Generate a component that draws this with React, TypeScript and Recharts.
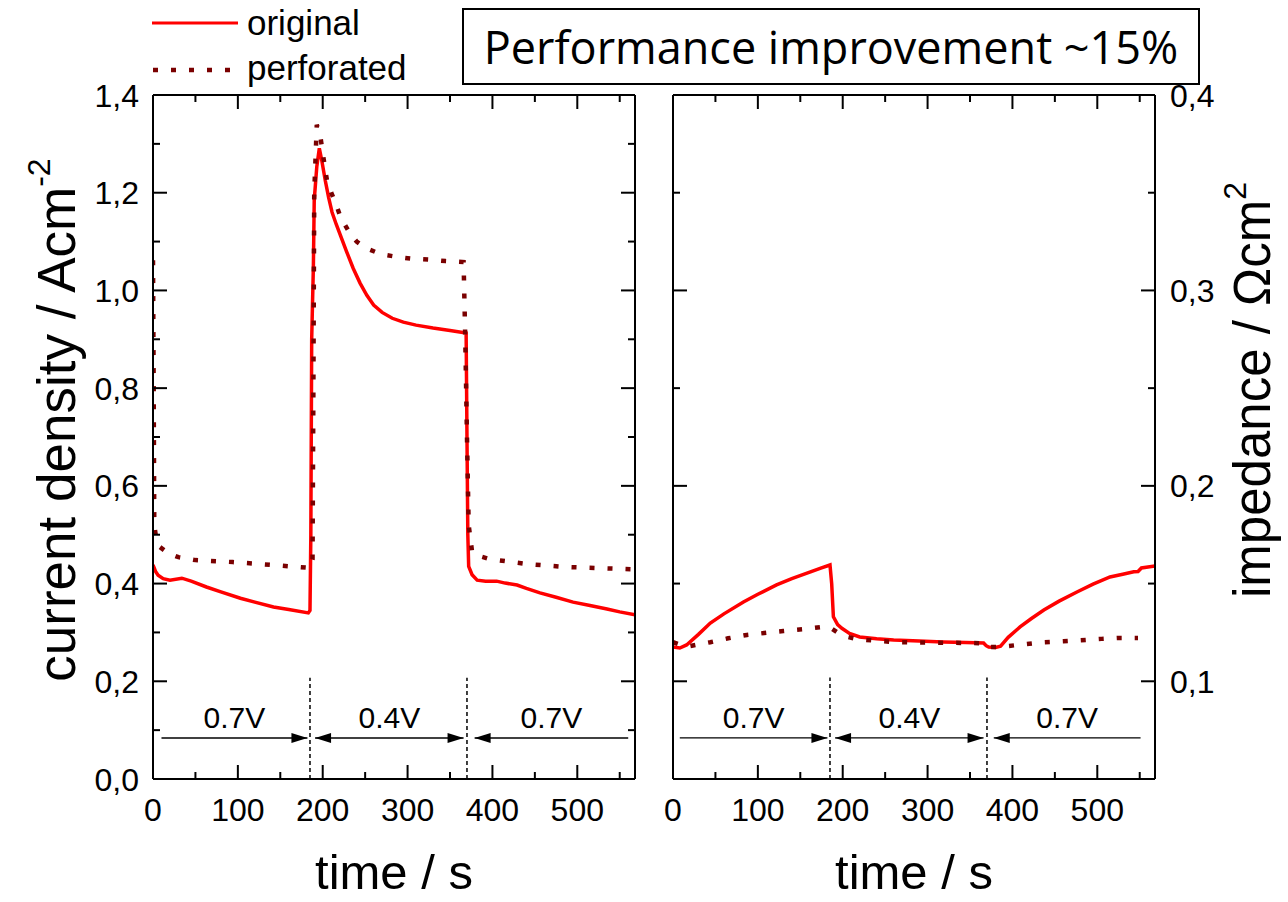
import { LineChart, Line, XAxis, YAxis, ReferenceLine } from "recharts";

const TIME_MAX = 568;
const timeTicks = [0, 50, 100, 150, 200, 250, 300, 350, 400, 450, 500, 550];
const currentTicks = [0, 0.1, 0.2, 0.3, 0.4, 0.5, 0.6, 0.7, 0.8, 0.9, 1.0, 1.1, 1.2, 1.3, 1.4];
const impedanceTicks = [0.1, 0.15, 0.2, 0.25, 0.3, 0.35, 0.4];

// voltage steps: switch times, labels and the arrow spans under each label
const stepSwitches = [185, 370];
const stepLabels = ["0.7V", "0.4V", "0.7V"];
const stepHeads = ["end", "both", "start"];
const currentSpans: [number, number][] = [[10, 182], [191, 366], [379, 560]];
const impedanceSpans: [number, number][] = [[8, 182], [191, 366], [378, 551]];

// [time s, current density A/cm2]
const originalCurrent: [number, number][] = [
  [0, 0.438], [3, 0.425], [6, 0.417], [12, 0.41], [20, 0.407], [34, 0.411], [45, 0.405],
  [63, 0.393], [80, 0.383], [103, 0.37], [120, 0.362], [142, 0.352], [160, 0.347], [183, 0.34],
  [185, 0.345], [186, 0.5], [187, 0.9], [189, 1.05], [190, 1.185], [193, 1.253], [196, 1.291],
  [199, 1.265], [203, 1.225], [207, 1.19], [211, 1.16], [216, 1.135], [221, 1.112], [228, 1.08],
  [236, 1.045], [244, 1.015], [252, 0.99], [260, 0.97], [270, 0.955], [282, 0.943], [295, 0.935],
  [310, 0.929], [330, 0.923], [350, 0.918], [369, 0.913],
  [370, 0.7], [371, 0.5], [372, 0.435], [376, 0.418], [382, 0.407], [392, 0.405], [405, 0.405],
  [415, 0.401], [429, 0.397], [440, 0.39], [456, 0.381], [475, 0.372], [495, 0.362], [515, 0.355],
  [535, 0.348], [550, 0.342], [568, 0.336],
];

const perforatedCurrent: [number, number][] = [
  [0, 1.062], [0.8, 0.8], [1.5, 0.52], [4, 0.49], [8, 0.475], [18, 0.462], [30, 0.454],
  [50, 0.448], [94, 0.444], [142, 0.438], [185, 0.432], [188, 0.45], [189, 0.8], [190, 1.2],
  [193, 1.339], [197, 1.318], [201, 1.27], [205, 1.225], [210, 1.2], [215, 1.18], [220, 1.155],
  [226, 1.135], [232, 1.117], [240, 1.1], [248, 1.09], [256, 1.083], [266, 1.076], [276, 1.072],
  [290, 1.068], [305, 1.065], [325, 1.063], [345, 1.06], [366, 1.058],
  [368, 0.9], [370, 0.7], [372, 0.52],
  [376, 0.465], [385, 0.456], [397, 0.45], [441, 0.44], [486, 0.434], [553, 0.43], [568, 0.429],
];

// [time s, impedance Ohm cm2]
const originalImpedance: [number, number][] = [
  [0, 0.1175], [8, 0.117], [16, 0.1186], [30, 0.124], [44, 0.1298], [60, 0.1345], [83, 0.1406],
  [100, 0.1445], [122, 0.1493], [140, 0.1525], [162, 0.156], [175, 0.158], [185, 0.1595],
  [187, 0.15], [189, 0.133], [194, 0.129], [199, 0.1271], [208, 0.1245], [220, 0.1227],
  [240, 0.1218], [260, 0.1211], [290, 0.1206], [318, 0.1201], [345, 0.1198], [366, 0.1196],
  [369, 0.1182], [372, 0.1175], [380, 0.1173], [386, 0.118], [395, 0.1225], [409, 0.1278],
  [422, 0.132], [437, 0.1365], [455, 0.141], [476, 0.1457], [495, 0.1497], [515, 0.1534],
  [530, 0.1548], [543, 0.156], [548, 0.1562], [552, 0.158], [568, 0.159],
];

const perforatedImpedance: [number, number][] = [
  [0, 0.12], [10, 0.1185], [20, 0.118], [44, 0.12], [65, 0.122], [87, 0.1237], [110, 0.1248],
  [130, 0.1257], [155, 0.1267], [176, 0.1278], [185, 0.1275], [193, 0.1252], [205, 0.1228],
  [217, 0.1216], [240, 0.1207], [260, 0.1201], [300, 0.1198], [351, 0.1196], [365, 0.1194],
  [372, 0.1175], [385, 0.1176], [394, 0.118], [415, 0.119], [437, 0.12], [460, 0.1205],
  [480, 0.121], [505, 0.1217], [527, 0.1222], [548, 0.1222],
];

const FONT = "'Liberation Sans', Arial, sans-serif";
const RED = "#ff0000";
const DARK_RED = "#7a0000";
const DOTS = "5 13";
const axisStroke = { stroke: "#000", strokeWidth: 2 };

const toPoints = (rows: [number, number][]) => rows.map(([t, v]) => ({ t, v }));
const comma = (v: number) => v.toFixed(1).replace(".", ",");

// inward ticks, long on major values, short on minor ones
function timeTick(side: "bottom" | "top", showLabels: boolean) {
  return (p: any) => {
    const v = p.payload.value;
    const major = v % 100 === 0;
    const dir = side === "bottom" ? -1 : 1;
    return (
      <g>
        <line x1={p.x} x2={p.x} y1={p.y} y2={p.y + dir * (major ? 14 : 7)} stroke="#000" strokeWidth={2} />
        {showLabels && major && (
          <text x={p.x} y={p.y + 42} textAnchor="middle" fontSize={32} fontFamily={FONT} fill="#000">
            {v}
          </text>
        )}
      </g>
    );
  };
}

function valueTick(side: "left" | "right", isMajor: (v: number) => boolean, showLabels: boolean) {
  return (p: any) => {
    const v = p.payload.value;
    const major = isMajor(v);
    const dir = side === "left" ? 1 : -1;
    return (
      <g>
        <line x1={p.x} x2={p.x + dir * (major ? 14 : 7)} y1={p.y} y2={p.y} stroke="#000" strokeWidth={2} />
        {showLabels && major && (
          <text
            x={side === "left" ? p.x - 14 : p.x + 15}
            y={p.y + 11.5}
            textAnchor={side === "left" ? "end" : "start"}
            fontSize={32}
            fontFamily={FONT}
            fill="#000"
          >
            {comma(v)}
          </text>
        )}
      </g>
    );
  };
}

const currentMajor = (v: number) => Math.round(v * 10) % 2 === 0;
const impedanceMajor = (v: number) => Math.round(v * 100) % 10 === 0;

function spanArrow(heads: string) {
  return (p: any) => {
    const { x1, y1, x2, y2 } = p;
    const l = 16;
    const w = 5;
    return (
      <g>
        <line x1={x1} y1={y1} x2={x2} y2={y2} stroke="#000" strokeWidth={1.3} />
        {heads !== "start" && <polygon points={`${x2},${y2} ${x2 - l},${y2 - w} ${x2 - l},${y2 + w}`} fill="#000" />}
        {heads !== "end" && <polygon points={`${x1},${y1} ${x1 + l},${y1 - w} ${x1 + l},${y1 + w}`} fill="#000" />}
      </g>
    );
  };
}

const timeTitle = (p: any) => {
  const vb = p.viewBox;
  return (
    <text x={vb.x + vb.width / 2} y={vb.y + 110} textAnchor="middle" fontSize={49} fontFamily={FONT} fill="#000">
      time / s
    </text>
  );
};

const currentTitle = (p: any) => {
  const vb = p.viewBox;
  const x = vb.x - 18;
  const y = vb.y + vb.height / 2 - 17;
  return (
    <text x={x} y={y} transform={`rotate(-90, ${x}, ${y})`} textAnchor="middle" fontSize={53} fontFamily={FONT} fill="#000">
      current density / Acm
      <tspan dy={-25} fontSize={32}>-2</tspan>
    </text>
  );
};

const impedanceTitle = (p: any) => {
  const vb = p.viewBox;
  const x = vb.x + 115;
  const y = vb.y + vb.height / 2 - 47;
  return (
    <text x={x} y={y} transform={`rotate(-90, ${x}, ${y})`} textAnchor="middle" fontSize={51} fontFamily={FONT} fill="#000">
      impedance / Ωcm
      <tspan dy={-24} fontSize={32}>2</tspan>
    </text>
  );
};

function CurrentPanel() {
  return (
    <LineChart width={660} height={902} margin={{ top: 85, right: 15, bottom: 93, left: 93 }}>
      <XAxis
        xAxisId="main"
        type="number"
        dataKey="t"
        domain={[0, TIME_MAX]}
        allowDataOverflow
        ticks={timeTicks}
        interval={0}
        height={30}
        tickSize={0}
        tickMargin={0}
        axisLine={axisStroke}
        tickLine={false}
        tick={timeTick("bottom", true)}
        label={timeTitle}
      />
      <XAxis
        xAxisId="top"
        orientation="top"
        type="number"
        dataKey="t"
        domain={[0, TIME_MAX]}
        allowDataOverflow
        ticks={timeTicks}
        interval={0}
        height={10}
        tickSize={0}
        tickMargin={0}
        axisLine={axisStroke}
        tickLine={false}
        tick={timeTick("top", false)}
      />
      <YAxis
        yAxisId="main"
        type="number"
        domain={[0, 1.4]}
        allowDataOverflow
        ticks={currentTicks}
        interval={0}
        width={60}
        tickSize={0}
        tickMargin={0}
        axisLine={axisStroke}
        tickLine={false}
        tick={valueTick("left", currentMajor, true)}
        label={currentTitle}
      />
      <YAxis
        yAxisId="mirror"
        orientation="right"
        type="number"
        domain={[0, 1.4]}
        allowDataOverflow
        ticks={currentTicks}
        interval={0}
        width={10}
        tickSize={0}
        tickMargin={0}
        axisLine={axisStroke}
        tickLine={false}
        tick={valueTick("right", currentMajor, false)}
      />
      {stepSwitches.map((t) => (
        <ReferenceLine
          key={`sw${t}`}
          xAxisId="main"
          yAxisId="main"
          segment={[{ x: t, y: 0 }, { x: t, y: 0.207 }]}
          stroke="#000"
          strokeWidth={1.5}
          strokeDasharray="4 3"
        />
      ))}
      {currentSpans.map(([a, b], i) => (
        <ReferenceLine
          key={`sp${i}`}
          xAxisId="main"
          yAxisId="main"
          segment={[{ x: a, y: 0.0839 }, { x: b, y: 0.0839 }]}
          shape={spanArrow(stepHeads[i])}
          label={{ value: stepLabels[i], position: "top", offset: 10, fontSize: 30, fill: "#000", fontFamily: FONT }}
        />
      ))}
      <Line
        xAxisId="main"
        yAxisId="main"
        data={toPoints(originalCurrent)}
        dataKey="v"
        type="linear"
        stroke={RED}
        strokeWidth={3.5}
        dot={false}
        isAnimationActive={false}
      />
      <Line
        xAxisId="main"
        yAxisId="main"
        data={toPoints(perforatedCurrent)}
        dataKey="v"
        type="linear"
        stroke={DARK_RED}
        strokeWidth={4.5}
        strokeDasharray={DOTS}
        dot={false}
        isAnimationActive={false}
      />
    </LineChart>
  );
}

function ImpedancePanel() {
  return (
    <LineChart width={648} height={902} margin={{ top: 85, right: 73, bottom: 93, left: 23 }}>
      <XAxis
        xAxisId="main"
        type="number"
        dataKey="t"
        domain={[0, TIME_MAX]}
        allowDataOverflow
        ticks={timeTicks}
        interval={0}
        height={30}
        tickSize={0}
        tickMargin={0}
        axisLine={axisStroke}
        tickLine={false}
        tick={timeTick("bottom", true)}
        label={timeTitle}
      />
      <XAxis
        xAxisId="top"
        orientation="top"
        type="number"
        dataKey="t"
        domain={[0, TIME_MAX]}
        allowDataOverflow
        ticks={timeTicks}
        interval={0}
        height={10}
        tickSize={0}
        tickMargin={0}
        axisLine={axisStroke}
        tickLine={false}
        tick={timeTick("top", false)}
      />
      <YAxis
        yAxisId="mirror"
        type="number"
        domain={[0.05, 0.4]}
        allowDataOverflow
        ticks={impedanceTicks}
        interval={0}
        width={10}
        tickSize={0}
        tickMargin={0}
        axisLine={axisStroke}
        tickLine={false}
        tick={valueTick("left", impedanceMajor, false)}
      />
      <YAxis
        yAxisId="main"
        orientation="right"
        type="number"
        domain={[0.05, 0.4]}
        allowDataOverflow
        ticks={impedanceTicks}
        interval={0}
        width={60}
        tickSize={0}
        tickMargin={0}
        axisLine={axisStroke}
        tickLine={false}
        tick={valueTick("right", impedanceMajor, true)}
        label={impedanceTitle}
      />
      {stepSwitches.map((t) => (
        <ReferenceLine
          key={`sw${t}`}
          xAxisId="main"
          yAxisId="main"
          segment={[{ x: t, y: 0.05 }, { x: t, y: 0.102 }]}
          stroke="#000"
          strokeWidth={1.5}
          strokeDasharray="4 3"
        />
      ))}
      {impedanceSpans.map(([a, b], i) => (
        <ReferenceLine
          key={`sp${i}`}
          xAxisId="main"
          yAxisId="main"
          segment={[{ x: a, y: 0.071 }, { x: b, y: 0.071 }]}
          shape={spanArrow(stepHeads[i])}
          label={{ value: stepLabels[i], position: "top", offset: 10, fontSize: 30, fill: "#000", fontFamily: FONT }}
        />
      ))}
      <Line
        xAxisId="main"
        yAxisId="main"
        data={toPoints(originalImpedance)}
        dataKey="v"
        type="linear"
        stroke={RED}
        strokeWidth={3.5}
        dot={false}
        isAnimationActive={false}
      />
      <Line
        xAxisId="main"
        yAxisId="main"
        data={toPoints(perforatedImpedance)}
        dataKey="v"
        type="linear"
        stroke={DARK_RED}
        strokeWidth={4.5}
        strokeDasharray={DOTS}
        dot={false}
        isAnimationActive={false}
      />
    </LineChart>
  );
}

export default function App() {
  return (
    <div style={{ position: "absolute", left: 0, top: 0, width: 1288, height: 902, background: "#fff", fontFamily: FONT }}>
      <div style={{ position: "absolute", left: 0, top: 0 }}>
        <CurrentPanel />
      </div>
      <div style={{ position: "absolute", left: 640, top: 0 }}>
        <ImpedancePanel />
      </div>
      <svg width={460} height={92} style={{ position: "absolute", left: 0, top: 0 }}>
        <line x1={152} x2={238} y1={23} y2={23} stroke={RED} strokeWidth={3} />
        <text x={247} y={35} fontSize={35} fontFamily={FONT} fill="#000">original</text>
        <line x1={153} x2={236} y1={70} y2={70} stroke={DARK_RED} strokeWidth={4.5} strokeDasharray={DOTS} />
        <text x={247} y={80} fontSize={35} fontFamily={FONT} fill="#000">perforated</text>
      </svg>
      <div
        style={{
          position: "absolute",
          left: 462,
          top: 8,
          width: 738,
          height: 77,
          boxSizing: "border-box",
          border: "2px solid #000",
          display: "flex",
          alignItems: "center",
          justifyContent: "center",
          fontFamily: "'Open Sans', sans-serif",
          fontSize: 45,
          color: "#000",
          background: "#fff",
        }}
      >
        Performance improvement ~15%
      </div>
    </div>
  );
}
